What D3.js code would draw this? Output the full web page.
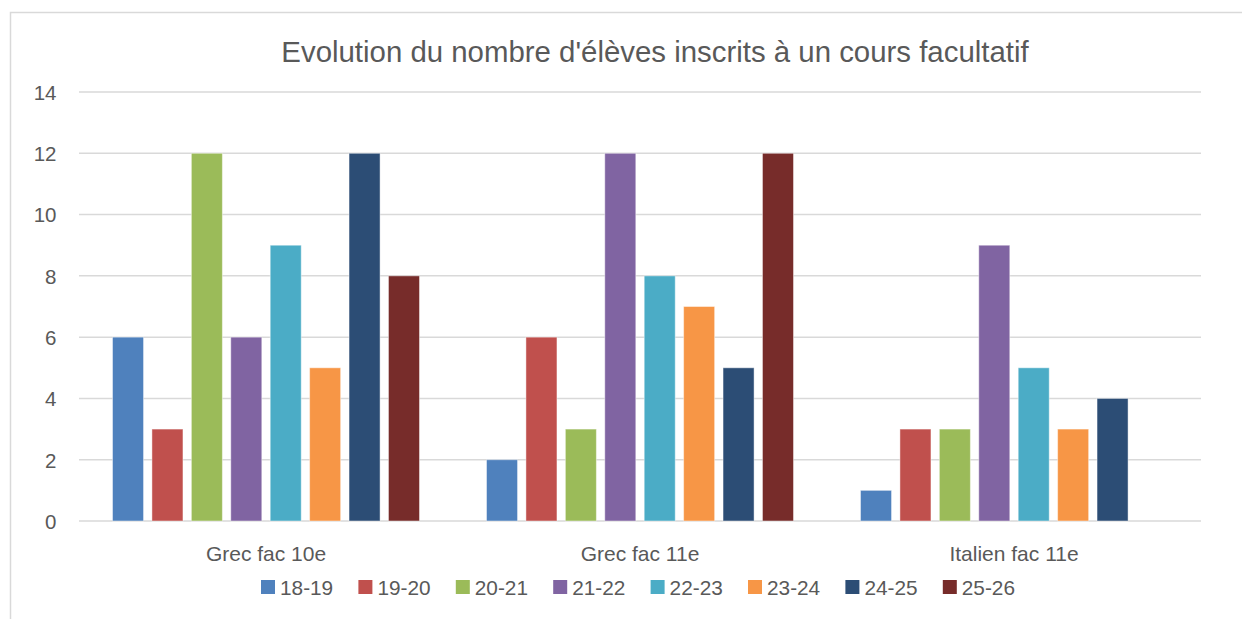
<!DOCTYPE html>
<html><head><meta charset="utf-8">
<script src="https://cdn.jsdelivr.net/npm/d3@7"></script>
<style>body{margin:0;background:#fff}svg{display:block}</style>
</head><body>
<svg id="c" width="1242" height="619"></svg>
<script>
const categories = ["Grec fac 10e", "Grec fac 11e", "Italien fac 11e"];
const series = ["18-19","19-20","20-21","21-22","22-23","23-24","24-25","25-26"];
const colors = ["#4F81BD","#C0504D","#9BBB59","#8064A2","#4BACC6","#F79646","#2C4D75","#772C2A"];
const v1819 = [6, 2, 1];
const v1920 = [3, 6, 3];
const v2021 = [12, 3, 3];
const v2122 = [6, 12, 9];
const v2223 = [9, 8, 5];
const v2324 = [5, 7, 3];
const v2425 = [12, 5, 4];
const v2526 = [8, 12, null];
const yTicks = [0, 2, 4, 6, 8, 10, 12, 14];
const title = "Evolution du nombre d'élèves inscrits à un cours facultatif";

(function () {
const values = [v1819, v1920, v2021, v2122, v2223, v2324, v2425, v2526];
const svg = d3.select("#c");
const font = "'Liberation Sans', Arial, sans-serif";

svg.append("rect").attr("x", 10.5).attr("y", 12.5).attr("width", 1300).attr("height", 700)
  .attr("fill", "#fff").attr("stroke", "#d9d9d9").attr("stroke-width", 1.5);

const pLeft = 79, pRight = 1201, pTop = 92, pBottom = 521;
const x0 = d3.scaleBand().domain(categories).range([pLeft, pRight]).padding(0);
const x1 = d3.scaleBand().domain(series).range([0, x0.bandwidth()]).paddingInner(0.213).paddingOuter(0.85);
const y = d3.scaleLinear().domain([0, 14]).range([pBottom, pTop]);

svg.append("g").selectAll("line").data(yTicks).join("line")
  .attr("x1", pLeft).attr("x2", pRight)
  .attr("y1", d => y(d)).attr("y2", d => y(d))
  .attr("stroke", "#d9d9d9").attr("stroke-width", 1.5);

const yAxis = d3.axisLeft(y).tickValues(yTicks).tickSize(0).tickPadding(0);
const ya = svg.append("g").attr("transform", `translate(56.5,0)`).call(yAxis);
ya.select(".domain").remove();
ya.selectAll("text").attr("font-family", font).attr("font-size", 20.5).attr("fill", "#595959").attr("dy", "0.36em");

const data = [];
categories.forEach((c, ci) => series.forEach((s, si) => {
  const v = values[si][ci];
  if (v !== null) data.push({c, s, v, color: colors[si]});
}));
svg.append("g").selectAll("rect").data(data).join("rect")
  .attr("x", d => x0(d.c) + x1(d.s))
  .attr("width", x1.bandwidth())
  .attr("y", d => y(d.v))
  .attr("height", d => y(0) - y(d.v))
  .attr("fill", d => d.color)
  .attr("stroke", "#ffffff").attr("stroke-opacity", 0.45).attr("stroke-width", 1);

const xAxis = d3.axisBottom(x0).tickSize(0).tickPadding(0);
const xa = svg.append("g").attr("transform", `translate(0,${pBottom})`).call(xAxis);
xa.select(".domain").remove();
xa.selectAll("text").attr("font-family", font).attr("font-size", 21).attr("fill", "#595959")
  .attr("dy", null).attr("y", 40);

svg.append("text").attr("x", 655).attr("y", 62).attr("text-anchor", "middle")
  .attr("font-family", font).attr("font-size", 29.4).attr("fill", "#595959").text(title);

const pitch = 97.4;
const lx0 = 261;
const lg = svg.append("g").selectAll("g").data(series).join("g")
  .attr("transform", (d, i) => `translate(${lx0 + i * pitch},580)`);
lg.append("rect").attr("width", 14).attr("height", 14).attr("fill", (d, i) => colors[i]);
lg.append("text").attr("x", 19).attr("y", 15).attr("font-family", font).attr("font-size", 20.8)
  .attr("fill", "#595959").text(d => d);
})();
</script>
</body></html>
